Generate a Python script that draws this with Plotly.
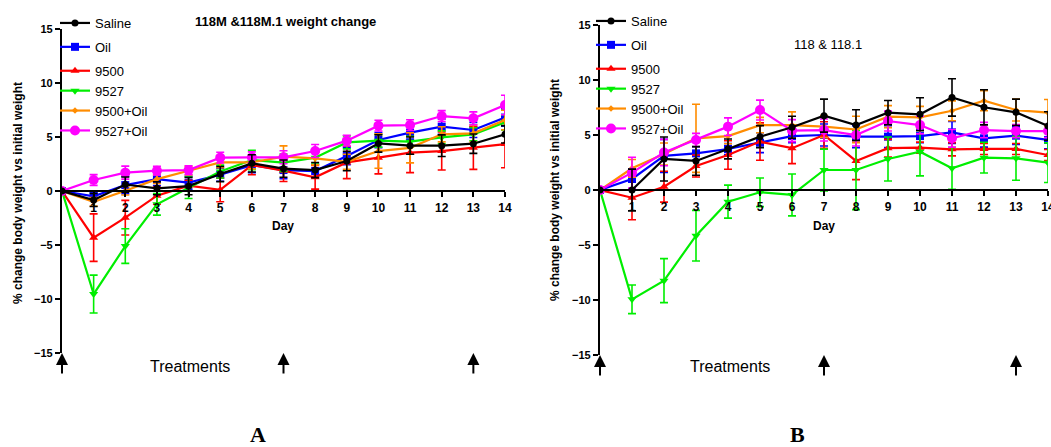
import plotly.graph_objects as go

W, H = 1051, 447
days = list(range(15))
tick_days = list(range(1, 15))
y_ticks = [-15, -10, -5, 0, 5, 10, 15]
treatment_days = [0, 7, 13]
series_names = ["Saline", "Oil", "9500", "9527", "9500+Oil", "9527+Oil"]

# Panel A (118M & 118M.1)
saline_A = [0, -0.83, 0.6, 0.25, 0.45, 1.57, 2.56, 2.07, 1.94, 2.78, 4.4, 4.2, 4.2, 4.38, 5.25]
saline_A_err = [0, 0.6, 0.7, 0.6, 0.8, 0.7, 0.8, 0.8, 0.7, 0.9, 0.8, 0.8, 1.0, 0.9, 0.8]
oil_A = [0, -0.5, 0.55, 1.1, 0.77, 1.5, 2.4, 1.94, 1.85, 3.24, 4.72, 5.4, 5.96, 5.65, 6.8]
oil_A_err = [0, 0.4, 0.8, 0.6, 0.6, 0.6, 0.7, 0.8, 0.6, 0.8, 0.7, 0.6, 0.7, 0.7, 0.8]
c9500_A = [0, -4.32, -2.47, -0.43, 0.5, 0.1, 2.4, 1.88, 1.27, 2.65, 3.09, 3.55, 3.7, 4.0, 4.35]
c9500_A_err = [0, 2.2, 1.6, 0.8, 0.5, 1.1, 0.9, 1.0, 1.1, 1.5, 1.5, 1.85, 1.76, 2.0, 2.2]
c9527_A = [0, -9.54, -5.1, -1.23, 0.3, 1.8, 2.87, 2.62, 3.09, 4.5, 4.66, 4.57, 4.97, 5.25, 6.36]
c9527_A_err = [0, 1.75, 1.6, 1.0, 1.0, 0.6, 0.9, 0.8, 0.6, 0.6, 0.6, 0.5, 0.6, 0.6, 0.7]
c9500oil_A = [0, -1.0, 0.03, 1.1, 1.88, 2.65, 2.65, 3.18, 3.02, 2.7, 3.7, 4.0, 5.25, 5.34, 6.57]
c9500oil_A_err = [0, 0.4, 0.4, 0.4, 0.4, 0.5, 0.6, 1.0, 0.6, 0.7, 1.6, 1.4, 0.7, 0.8, 0.9]
c9527oil_A = [0, 1.02, 1.7, 1.88, 1.94, 3.09, 3.12, 3.12, 3.7, 4.66, 6.05, 6.1, 6.94, 6.73, 7.96]
c9527oil_A_err = [0, 0.5, 0.6, 0.4, 0.4, 0.5, 0.5, 0.6, 0.6, 0.5, 0.5, 0.5, 0.5, 0.6, 0.9]

# Panel B (118 & 118.1)
saline_B = [0, 0.0, 2.82, 2.64, 3.73, 4.85, 5.7, 6.76, 5.9, 7.03, 6.88, 8.42, 7.52, 7.06, 5.82]
saline_B_err = [0, 1.9, 2.0, 1.3, 0.9, 1.0, 1.0, 1.5, 1.4, 1.1, 1.5, 1.7, 1.6, 1.2, 1.3]
oil_B = [0, 1.0, 3.1, 3.33, 3.73, 4.3, 4.9, 5.0, 4.85, 4.85, 4.9, 5.24, 4.7, 4.94, 4.55]
oil_B_err = [0, 0.9, 1.5, 0.6, 0.5, 0.9, 0.6, 1.0, 1.0, 1.0, 0.6, 1.0, 0.8, 0.8, 0.8]
c9500_B = [0, -0.7, 0.3, 2.18, 3.18, 4.4, 3.8, 5.0, 2.64, 3.8, 3.85, 3.7, 3.73, 3.73, 3.18]
c9500_B_err = [0, 2.0, 1.4, 1.0, 1.3, 1.7, 1.4, 1.2, 1.7, 0.8, 0.5, 0.6, 0.5, 0.5, 0.5]
c9527_B = [0, -9.94, -8.24, -4.15, -1.06, -0.21, -0.45, 1.82, 1.82, 2.82, 3.48, 1.97, 2.94, 2.88, 2.48]
c9527_B_err = [0, 1.3, 2.0, 2.3, 1.5, 1.3, 1.9, 1.9, 3.6, 2.0, 2.2, 1.9, 1.4, 2.0, 1.8]
c9500oil_B = [0, 1.97, 3.27, 4.7, 4.9, 5.9, 5.9, 5.76, 5.5, 6.67, 6.6, 7.2, 8.12, 7.27, 7.03]
c9500oil_B_err = [0, 0.8, 1.0, 3.1, 0.7, 0.7, 1.2, 1.0, 1.2, 1.0, 1.0, 0.9, 0.9, 1.0, 1.2]
c9527oil_B = [0, 1.58, 3.4, 4.55, 5.76, 7.27, 5.4, 5.45, 5.0, 6.27, 5.9, 4.7, 5.45, 5.36, 5.36]
c9527oil_B_err = [0, 1.4, 1.2, 0.6, 0.8, 0.9, 1.0, 1.0, 1.0, 0.9, 0.8, 0.8, 0.7, 0.6, 0.6]

panel_A = [(saline_A, saline_A_err), (oil_A, oil_A_err), (c9500_A, c9500_A_err),
           (c9527_A, c9527_A_err), (c9500oil_A, c9500oil_A_err), (c9527oil_A, c9527oil_A_err)]
panel_B = [(saline_B, saline_B_err), (oil_B, oil_B_err), (c9500_B, c9500_B_err),
           (c9527_B, c9527_B_err), (c9500oil_B, c9500oil_B_err), (c9527oil_B, c9527oil_B_err)]

colors = ["#000000", "#0000FF", "#FF0000", "#00EE00", "#FF8C00", "#FF00FF"]
symbols = ["circle", "square", "triangle-up", "triangle-down", "diamond", "circle"]
msizes = [7, 8, 8, 8, 5, 10]
legend_groups = ["g1", "g2", "g3", "g3", "g3", "g3"]
draw_order = [1, 2, 3, 4, 5, 0]

FONT = "Liberation Sans, Arial, sans-serif"
fig = go.Figure()

for panel, xa, ya, leg in [(panel_A, "x", "y", "legend"), (panel_B, "x2", "y2", "legend2")]:
    for i in draw_order:
        vals, errs = panel[i]
        fig.add_trace(go.Scatter(
            x=days, y=vals, xaxis=xa, yaxis=ya, legend=leg, name=series_names[i],
            legendrank=i + 1, legendgroup=leg + legend_groups[i], mode="lines+markers",
            line=dict(color=colors[i], width=2.2),
            marker=dict(symbol=symbols[i], size=msizes[i], color=colors[i]),
            error_y=dict(type="data", array=errs, visible=True, color=colors[i],
                         thickness=1.6, width=4),
        ))

def px_x(p):
    return p / W

def px_y(p):
    return (H - p) / H

axis_common = dict(showgrid=False, zeroline=False, showline=True, linecolor="black",
                   linewidth=2.2, ticks="outside", tickcolor="black", tickwidth=1.8,
                   ticklen=5, automargin=False, ticklabeloverflow="allow")

# Panel A geometry
xA0, xA1 = 62, 505
yA_top, yA_bot, yA_zero = 29, 353, 191
# Panel B geometry
xB0, xB1 = 600, 1048
yB_top, yB_bot, yB_zero = 25, 355, 190

leg_common = dict(xanchor="left", yanchor="top", bgcolor="rgba(0,0,0,0)",
                  font=dict(size=13, family=FONT), traceorder="grouped",
                  tracegroupgap=4, itemwidth=30)

fig.update_layout(
    width=W, height=H, margin=dict(l=0, r=0, t=0, b=0, autoexpand=False),
    paper_bgcolor="white", plot_bgcolor="rgba(0,0,0,0)",
    font=dict(family=FONT, color="black"),
    xaxis=dict(domain=[px_x(xA0), px_x(xA1)], range=[0, 14], anchor="free",
               position=px_y(yA_zero), tickvals=tick_days,
               tickfont=dict(size=12, weight="bold"), **axis_common),
    yaxis=dict(domain=[px_y(yA_bot), px_y(yA_top)], range=[-15, 15], anchor="x",
               tickvals=y_ticks, tickfont=dict(size=11, weight="bold"), **axis_common),
    xaxis2=dict(domain=[px_x(xB0), px_x(xB1)], range=[0, 14], anchor="free",
                position=px_y(yB_zero), tickvals=tick_days,
                tickfont=dict(size=12, weight="bold"), **axis_common),
    yaxis2=dict(domain=[px_y(yB_bot), px_y(yB_top)], range=[-15, 15], anchor="x2",
                tickvals=y_ticks, tickfont=dict(size=11, weight="bold"), **axis_common),
    legend=dict(x=px_x(55), y=px_y(8), **leg_common),
    legend2=dict(x=px_x(591), y=px_y(6), **leg_common),
)

def label(text, cx, cy, size, family=FONT, angle=0):
    return dict(text=text, x=px_x(cx), y=px_y(cy), xref="paper", yref="paper",
                xanchor="center", yanchor="middle", showarrow=False, textangle=angle,
                font=dict(size=size, family=family))

ann = []
ann.append(label("<b>118M &118M.1 weight change</b>", 285, 22, 13))
ann.append(label("118 & 118.1", 828, 44, 13))
for cx in (283, 824):
    ann.append(label("<b>Day</b>", cx, 226, 12))
for cx, cy in ((18, 193), (555, 190)):
    ann.append(label("<b>% change body weight vs initial weight</b>", cx, cy, 12, angle=-90))
for cx in (190, 730):
    ann.append(label("Treatments", cx, 366, 16))
for xr, yr in (("x", "y"), ("x2", "y2")):
    for d in treatment_days:
        ann.append(dict(text="", x=d, y=-15, xref=xr, yref=yr, ax=0, ay=22,
                        showarrow=True, arrowhead=2, arrowsize=1.2, arrowwidth=2,
                        arrowcolor="black", standoff=0))
for letter, cx in (("A", 258), ("B", 797)):
    ann.append(label("<b>" + letter + "</b>", cx, 434, 22,
                     family="Liberation Serif, Times New Roman, serif"))
fig.update_layout(annotations=ann)

fig.write_html("out.html", config={"displayModeBar": False},
               post_script="document.body.style.margin='0px';")
